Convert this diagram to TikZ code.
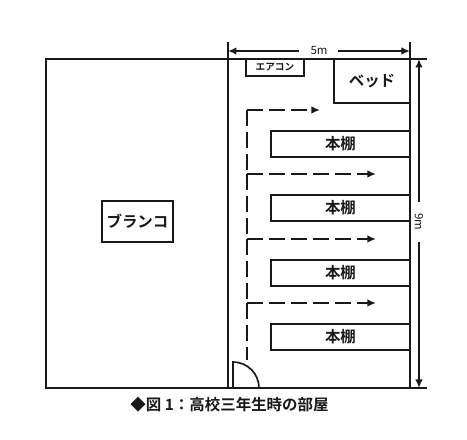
\documentclass[tikz,border=0pt]{standalone}
\usepackage{fontspec}
\setmainfont{Noto Sans CJK JP}[BoldFont={Noto Sans CJK JP Bold}]
\usetikzlibrary{calc}
\usetikzlibrary{arrows.meta}
\definecolor{ink}{gray}{0.1}
\tikzset{
    wall/.style={draw=ink,line width=0.95pt},
    furniture/.style={draw=ink,fill=white,line width=0.95pt,inner sep=0pt,font=\bfseries\fontsize{8.8}{8.8}\selectfont,text=ink},
    aisle/.style={draw=ink,line width=0.95pt,dash pattern=on 0.32cm off 0.12cm},
    route/.style={aisle,-{Latex[length=0.17cm,width=0.15cm]}},
    dimline/.style={draw=ink,line width=0.95pt,-{Latex[length=0.17cm,width=0.15cm]}},
}
\begin{document}
\begin{tikzpicture}
        \useasboundingbox (0,0) rectangle (9.34,8.8);
        % corners of the room
        \coordinate (sw) at (0.92,1.04);
        \coordinate (se) at (8.2,1.04);
        \coordinate (nw) at (0.92,7.62);
        \coordinate (ne) at (8.2,7.62);
        \coordinate (ds) at (4.56,1.04);
        \coordinate (dn) at (4.56,7.62);
        \draw[wall] (se) -- (sw) -- (nw) -- (ne) -- (se);
        \draw[wall] (ds) -- (dn);
        \draw[wall] (se) -- (8.54,1.04);
        \draw[wall] (ne) -- (8.54,7.62);
        % furniture
        \node[furniture,minimum width=1.42cm,minimum height=0.82cm] (swing) at (2.75,4.37) {ブランコ};
        \node[furniture,minimum width=1.16cm,minimum height=0.34cm,font=\bfseries\fontsize{5.5}{5.5}\selectfont] (aircon) at (5.5,7.45) {エアコン};
        \node[furniture,minimum width=1.52cm,minimum height=0.88cm] (bed) at (7.44,7.18) {ベッド};
        \node[furniture,minimum width=2.78cm,minimum height=0.52cm] (shelfa) at (6.81,5.92) {本棚};
        \node[furniture,minimum width=2.78cm,minimum height=0.52cm] (shelfb) at (6.81,4.64) {本棚};
        \node[furniture,minimum width=2.78cm,minimum height=0.52cm] (shelfc) at (6.81,3.34) {本棚};
        \node[furniture,minimum width=2.78cm,minimum height=0.52cm] (shelfd) at (6.81,2.06) {本棚};
        % door
        \draw[wall] (4.66,1.04) -- (4.66,1.56) arc (90:0:0.52);
        % walking route
        \coordinate (rstart) at (4.94,1.6);
        \coordinate (ra) at (4.94,2.74);
        \coordinate (rb) at (4.94,4.02);
        \coordinate (rc) at (4.94,5.32);
        \coordinate (rd) at (4.94,6.6);
        \coordinate (enda) at (7.52,2.74);
        \coordinate (endb) at (7.52,4.02);
        \coordinate (endc) at (7.52,5.32);
        \coordinate (endd) at (6.4,6.6);
        \draw[aisle] (rd) -- (rc);
        \draw[aisle] (rc) -- (rb);
        \draw[aisle] (rb) -- (ra);
        \draw[aisle] (ra) -- (rstart);
        \draw[route] (ra) -- (enda);
        \draw[route] (rb) -- (endb);
        \draw[route] (rc) -- (endc);
        \draw[route] (rd) -- (endd);
        % width
        \coordinate (wl) at (4.56,7.78);
        \coordinate (wr) at (8.2,7.78);
        \node[font=\fontsize{6.5}{6.5}\selectfont,text=ink,inner sep=1pt] (width) at (6.38,7.78) {5m};
        \draw[wall] (dn) -- (4.56,7.96);
        \draw[wall] (ne) -- (8.2,7.96);
        \draw[dimline] (5.98,7.78) -- (wl);
        \draw[dimline] (6.76,7.78) -- (wr);
        % height
        \coordinate (ht) at (8.38,7.62);
        \coordinate (hb) at (8.38,1.04);
        \node[font=\fontsize{6.5}{6.5}\selectfont,text=ink,inner sep=1pt,rotate=-90] (height) at (8.38,4.36) {9m};
        \draw[dimline] (8.38,4.76) -- (ht);
        \draw[dimline] (8.38,3.96) -- (hb);

        \node[font=\bfseries\fontsize{8.8}{8.8}\selectfont,text=ink] (caption) at (4.59,0.7) {◆図 1：高校三年生時の部屋};
    \end{tikzpicture}
\end{document}
